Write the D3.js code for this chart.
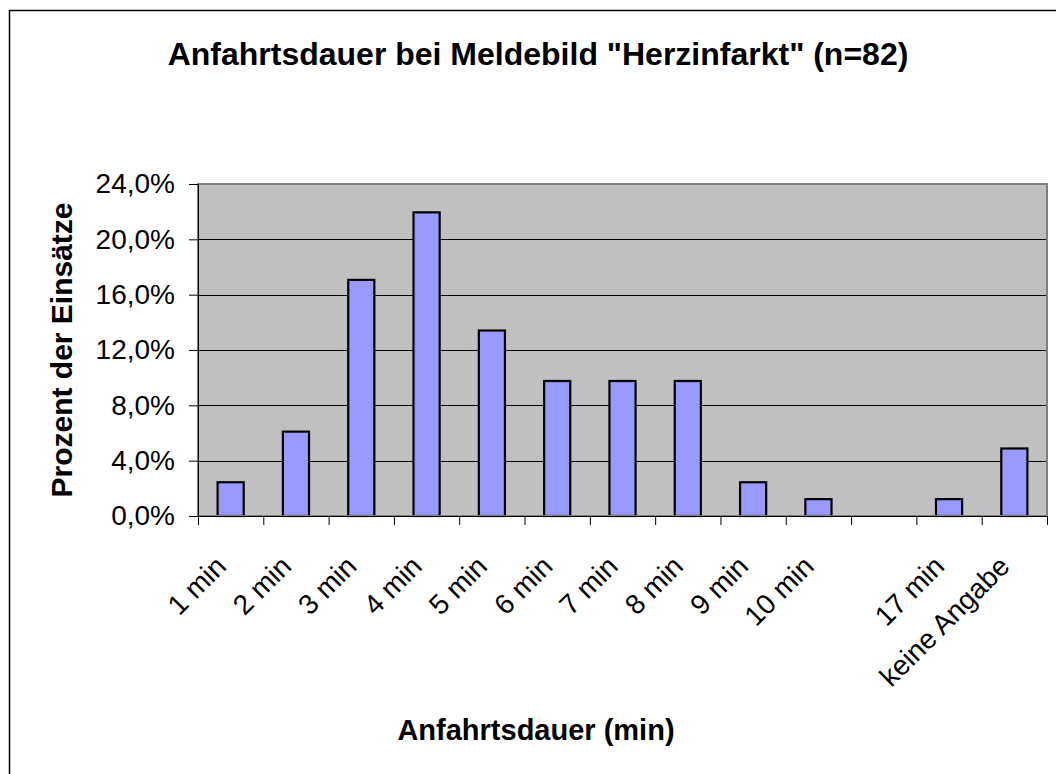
<!DOCTYPE html>
<html lang="de">
<head>
    <meta charset="UTF-8">
    <title>Anfahrtsdauer</title>
    <script src="https://cdn.jsdelivr.net/npm/d3@7/dist/d3.min.js"></script>
    <style>
        body { margin: 0; background: #fff; }
        svg { display: block; font-family: "Liberation Sans", Arial, sans-serif; }
    </style>
</head>
<body>
<script>
    // data
    var categories = ["1 min", "2 min", "3 min", "4 min", "5 min", "6 min", "7 min",
                      "8 min", "9 min", "10 min", "", "17 min", "keine Angabe"];
    var values = [2.44, 6.10, 17.07, 21.95, 13.41, 9.76, 9.76, 9.76, 2.44, 1.22, 0, 1.22, 4.88];
    var yTicks = [0, 4, 8, 12, 16, 20, 24];

    var width = 1056, height = 774;
    var plot = { left: 198, right: 1047, top: 184, bottom: 516 };

    var svg = d3.select("body").append("svg").attr("width", width).attr("height", height);

    // outer chart frame (runs off the right and bottom edge)
    svg.append("rect")
        .attr("x", 9.5).attr("y", 10.5)
        .attr("width", 1100).attr("height", 800)
        .attr("fill", "none").attr("stroke", "#000").attr("stroke-width", 1.5);

    var idx = d3.range(categories.length);
    // bars sit in the middle of each category slot
    var x = d3.scaleBand().domain(idx).range([plot.left, plot.right])
        .paddingInner(0.6).paddingOuter(0.3);
    // slot edges, used for the x tick marks
    var xEdge = d3.scaleLinear().domain([0, categories.length]).range([plot.left, plot.right]);
    var y = d3.scaleLinear().domain([0, 24]).range([plot.bottom, plot.top]);

    // plot area
    svg.append("rect")
        .attr("x", plot.left).attr("y", plot.top)
        .attr("width", plot.right - plot.left).attr("height", plot.bottom - plot.top)
        .attr("fill", "#c0c0c0");

    // gridlines
    svg.append("g").selectAll("line").data(yTicks.slice(1, -1)).enter().append("line")
        .attr("x1", plot.left).attr("x2", plot.right)
        .attr("y1", function (d) { return Math.round(y(d)) + 0.5; })
        .attr("y2", function (d) { return Math.round(y(d)) + 0.5; })
        .attr("stroke", "#000").attr("stroke-width", 1);

    // bars
    svg.append("g").selectAll("rect")
        .data(idx.filter(function (i) { return values[i] > 0; }))
        .enter().append("rect")
        .attr("x", function (i) { return x(i); })
        .attr("width", x.bandwidth())
        .attr("y", function (i) { return y(values[i]); })
        .attr("height", function (i) { return y(0) - y(values[i]); })
        .attr("fill", "#9999ff").attr("stroke", "#000").attr("stroke-width", 2.2);

    // plot border
    svg.append("rect")
        .attr("x", plot.left).attr("y", plot.top)
        .attr("width", plot.right - plot.left).attr("height", plot.bottom - plot.top)
        .attr("fill", "none").attr("stroke", "#808080").attr("stroke-width", 2);

    // y axis
    var yAxis = d3.axisLeft(y).tickValues(yTicks).tickSize(9).tickPadding(14)
        .tickFormat(function (d) { return d.toFixed(1).replace(".", ",") + "%"; });
    var gy = svg.append("g").attr("transform", "translate(" + plot.left + ",0)").call(yAxis);
    gy.select(".domain").attr("stroke", "#000").attr("stroke-width", 1);
    gy.selectAll(".tick line").attr("stroke", "#000");
    gy.selectAll(".tick text").attr("font-size", 28).attr("fill", "#000")
        .attr("font-family", "Liberation Sans, Arial, sans-serif");

    // x axis: ticks on category edges
    var xAxis = d3.axisBottom(xEdge).tickValues(d3.range(categories.length + 1))
        .tickSize(9).tickFormat("");
    var gx = svg.append("g").attr("transform", "translate(0," + plot.bottom + ")").call(xAxis);
    gx.select(".domain").attr("stroke", "#000");
    gx.selectAll(".tick line").attr("stroke", "#000");

    // category labels, rotated
    svg.append("g").selectAll("text").data(idx).enter().append("text")
        .attr("transform", function (i) {
            return "translate(" + (x(i) + x.bandwidth() / 2 - 3) + "," + (plot.bottom + 52) + ") rotate(-45)";
        })
        .attr("text-anchor", "end")
        .attr("font-size", 28)
        .text(function (i) { return categories[i]; });

    // titles
    svg.append("text")
        .attr("x", 538).attr("y", 65)
        .attr("text-anchor", "middle").attr("font-size", 32).attr("font-weight", "bold")
        .text("Anfahrtsdauer bei Meldebild \"Herzinfarkt\" (n=82)");

    svg.append("text")
        .attr("transform", "translate(72,350) rotate(-90)")
        .attr("text-anchor", "middle").attr("font-size", 30).attr("font-weight", "bold")
        .text("Prozent der Einsätze");

    svg.append("text")
        .attr("x", 536).attr("y", 740)
        .attr("text-anchor", "middle").attr("font-size", 29).attr("font-weight", "bold")
        .text("Anfahrtsdauer (min)");
</script>
</body>
</html>
